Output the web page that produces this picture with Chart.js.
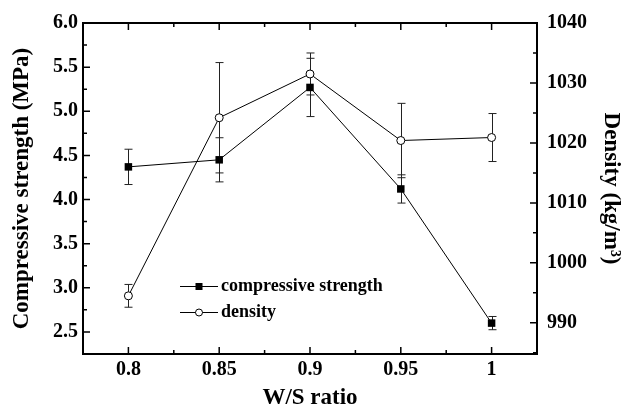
<!DOCTYPE html>
<html>
<head>
<meta charset="utf-8">
<script src="https://cdn.jsdelivr.net/npm/chart.js@4/dist/chart.umd.min.js"></script>
<style>
  html, body { margin: 0; padding: 0; background: #fff; }
  #wrap { width: 625px; height: 410px; }
</style>
</head>
<body>
<div id="wrap"><canvas id="chart"></canvas></div>
<script>
// values
var wsRatio = [0.8, 0.85, 0.9, 0.95, 1.0];
var strength = [4.37, 4.45, 5.27, 4.12, 2.60];
var strengthErr = [0.20, 0.25, 0.33, 0.16, 0.075];
var density = [994.5, 1024.2, 1031.5, 1020.4, 1020.9];
var densityErr = [1.9, 9.2, 3.5, 6.2, 4.0];

// tick labels
var xTicks = [0.8, 0.85, 0.9, 0.95, 1];
var xTickLabels = ["0.8", "0.85", "0.9", "0.95", "1"];
var strengthTicks = [2.5, 3.0, 3.5, 4.0, 4.5, 5.0, 5.5, 6.0];
var densityTicks = [990, 1000, 1010, 1020, 1030, 1040];

var serif = "'Liberation Serif', 'Times New Roman', serif";
Chart.defaults.color = "#000";
Chart.defaults.font.family = serif;
Chart.defaults.font.weight = "bold";

function points(xs, ys) {
  var out = [];
  for (var i = 0; i < xs.length; i++) out.push({ x: xs[i], y: ys[i] });
  return out;
}

function fixedTicks(list) {
  return function(scale) {
    scale.ticks = list.map(function(v) { return { value: v }; });
  };
}

// majors plus midpoints (and one half step past each end if still in range)
function withMinors(scale, majors) {
  var out = majors.slice();
  var step = majors[1] - majors[0];
  for (var i = 0; i < majors.length - 1; i++) out.push((majors[i] + majors[i + 1]) / 2);
  var lo = majors[0] - step / 2, hi = majors[majors.length - 1] + step / 2;
  if (lo >= scale.min - 1e-9) out.push(lo);
  if (hi <= scale.max + 1e-9) out.push(hi);
  return out.map(function(v) { return { v: v, major: majors.indexOf(v) >= 0 }; });
}

var errorSets = [strengthErr, densityErr];

var errorBars = {
  id: "errorBars",
  beforeDatasetsDraw: function(chart) {
    var ctx = chart.ctx;
    ctx.save();
    ctx.strokeStyle = "#222";
    ctx.lineWidth = 1;
    chart.data.datasets.forEach(function(ds, i) {
      var ys = chart.scales[ds.yAxisID];
      var xs = chart.scales.x;
      errorSets[i].forEach(function(e, j) {
        var px = Math.round(xs.getPixelForValue(ds.data[j].x)) + 0.5;
        var t = ys.getPixelForValue(ds.data[j].y + e);
        var b = ys.getPixelForValue(ds.data[j].y - e);
        ctx.beginPath();
        ctx.moveTo(px, t); ctx.lineTo(px, b);
        ctx.moveTo(px - 4, t); ctx.lineTo(px + 4, t);
        ctx.moveTo(px - 4, b); ctx.lineTo(px + 4, b);
        ctx.stroke();
      });
    });
    ctx.restore();
  }
};

var frame = {
  id: "frame",
  afterDraw: function(chart) {
    var ctx = chart.ctx, a = chart.chartArea;
    var sx = chart.scales.x, sl = chart.scales.y, sr = chart.scales.y2;
    ctx.save();
    ctx.strokeStyle = "#000";
    ctx.lineWidth = 2;
    ctx.strokeRect(a.left, a.top, a.right - a.left, a.bottom - a.top);
    ctx.lineWidth = 1.5;
    ctx.beginPath();
    withMinors(sx, xTicks).forEach(function(t) {
      var p = sx.getPixelForValue(t.v), len = t.major ? 7 : 4;
      ctx.moveTo(p, a.bottom); ctx.lineTo(p, a.bottom - len);
      ctx.moveTo(p, a.top); ctx.lineTo(p, a.top + len);
    });
    withMinors(sl, strengthTicks).forEach(function(t) {
      var p = sl.getPixelForValue(t.v), len = t.major ? 7 : 4;
      ctx.moveTo(a.left, p); ctx.lineTo(a.left + len, p);
    });
    withMinors(sr, densityTicks).forEach(function(t) {
      var p = sr.getPixelForValue(t.v), len = t.major ? 7 : 4;
      ctx.moveTo(a.right, p); ctx.lineTo(a.right - len, p);
    });
    ctx.stroke();
    ctx.restore();
  }
};

// legend inside the plot
var insideLegend = {
  id: "insideLegend",
  afterDraw: function(chart) {
    var ctx = chart.ctx;
    var x0 = 180, x1 = 218, tx = 221;
    var rows = [286, 312];
    ctx.save();
    chart.data.datasets.forEach(function(ds, i) {
      var y = rows[i];
      ctx.strokeStyle = "#000";
      ctx.lineWidth = 1;
      ctx.beginPath();
      ctx.moveTo(x0, y + 0.5); ctx.lineTo(x1, y + 0.5);
      ctx.stroke();
      var cx = (x0 + x1) / 2;
      ctx.beginPath();
      if (ds.pointStyle === "rect") {
        ctx.fillStyle = "#000";
        ctx.fillRect(cx - 3.5, y - 3, 7, 7);
      } else {
        ctx.fillStyle = "#fff";
        ctx.arc(cx, y + 0.5, 3.5, 0, Math.PI * 2);
        ctx.fill();
        ctx.stroke();
      }
      ctx.fillStyle = "#000";
      ctx.font = "bold 18px " + serif;
      ctx.textBaseline = "middle";
      ctx.fillText(ds.label, tx, y);
    });
    ctx.restore();
  }
};

var ctx = document.getElementById("chart");

var chart = new Chart(ctx, {
  type: "line",
  data: {
    datasets: [
      {
        label: "compressive strength",
        data: points(wsRatio, strength),
        yAxisID: "y",
        borderColor: "#000",
        borderWidth: 1,
        pointStyle: "rect",
        pointRadius: 5.3,
        pointBackgroundColor: "#000",
        pointBorderColor: "#000",
        pointBorderWidth: 0
      },
      {
        label: "density",
        data: points(wsRatio, density),
        yAxisID: "y2",
        borderColor: "#000",
        borderWidth: 1,
        pointStyle: "circle",
        pointRadius: 4,
        pointBackgroundColor: "#fff",
        pointBorderColor: "#000",
        pointBorderWidth: 1
      }
    ]
  },
  options: {
    responsive: true,
    maintainAspectRatio: false,
    animation: false,
    layout: { padding: { top: 23, left: 0, right: 0, bottom: 0 } },
    plugins: {
      legend: { display: false },
      tooltip: { enabled: false }
    },
    scales: {
      x: {
        type: "linear",
        position: "bottom",
        min: 0.775,
        max: 1.025,
        afterBuildTicks: fixedTicks(xTicks),
        afterFit: function(s) { s.height = 56; },
        grid: { display: false, drawTicks: false },
        border: { display: false },
        ticks: {
          padding: 4,
          font: { size: 20, weight: "bold" },
          callback: function(v) { return xTickLabels[xTicks.indexOf(v)]; }
        },
        title: {
          display: true,
          text: "W/S ratio",
          font: { size: 23, weight: "bold", lineHeight: 1 },
          padding: 0
        }
      },
      y: {
        type: "linear",
        position: "left",
        min: 2.25,
        max: 6.0,
        afterBuildTicks: fixedTicks(strengthTicks),
        afterFit: function(s) { s.width = 83; },
        grid: { display: false, drawTicks: false },
        border: { display: false },
        ticks: {
          padding: 5,
          font: { size: 20, weight: "bold" },
          callback: function(v) { return v.toFixed(1); }
        },
        title: {
          display: true,
          text: "Compressive strength (MPa)",
          font: { size: 23, weight: "bold" },
          padding: { top: 8, bottom: 0 }
        }
      },
      y2: {
        type: "linear",
        position: "right",
        min: 984.8,
        max: 1040,
        afterBuildTicks: fixedTicks(densityTicks),
        afterFit: function(s) { s.width = 88; },
        grid: { display: false, drawTicks: false },
        border: { display: false },
        ticks: {
          padding: 10,
          font: { size: 20, weight: "bold" },
          callback: function(v) { return String(v); }
        },
        title: {
          display: true,
          text: "Density (kg/m\u00B3)",
          font: { size: 23, weight: "bold" },
          padding: { top: 0, bottom: 0 }
        }
      }
    }
  },
  plugins: [errorBars, frame, insideLegend]
});
</script>
</body>
</html>
